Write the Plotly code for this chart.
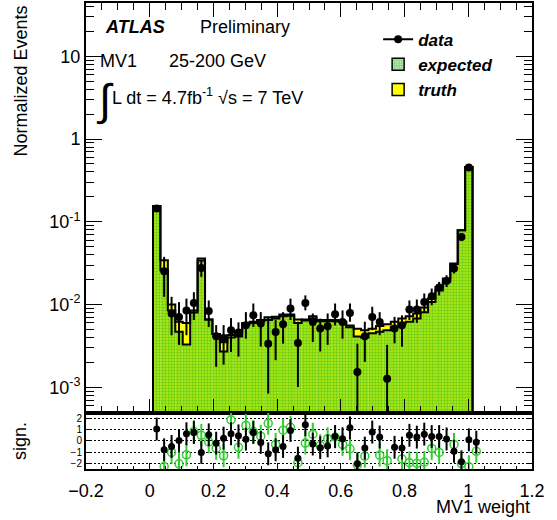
import numpy as np
import plotly.graph_objects as go

# ---------------- data ----------------
BIN_START = 0.0103      # left edge of first MV1-weight bin
BIN_WIDTH = 0.02333     # bin width
N_BINS = 43

data_vals = [0.145, 0.0253, 0.00778, 0.00708, 0.0085, 0.01045, 0.0277, 0.00838, 0.00414, 0.00394,
             0.00489, 0.00458, 0.00562, 0.00743, 0.00589, 0.00337, 0.00467, 0.00578, 0.00895, 0.00343,
             0.01045, 0.00617, 0.00513, 0.00547, 0.00764, 0.00617, 0.00793, 0.00153, 0.00414, 0.00708,
             0.00617, 0.00127, 0.00513, 0.00562, 0.0087, 0.0087, 0.01075, 0.0126, 0.0161, 0.0193,
             0.0272, 0.0656, 0.454]
data_hi = [0.155, 0.0377, 0.0124, 0.0107, 0.0118, 0.0141, 0.0344, 0.0112, 0.00564, 0.00564,
           0.00686, 0.0061, 0.0081, 0.0103, 0.0081, 0.0071, 0.0065, 0.0081, 0.0118, 0.0062,
           0.0129, 0.0078, 0.00676, 0.0078, 0.0103, 0.0085, 0.0103, 0.00337, 0.0062, 0.0094,
           0.0081, 0.00326, 0.0071, 0.0074, 0.0112, 0.0115, 0.0136, 0.0156, 0.0188, 0.0226,
           0.0313, 0.071, 0.47]
data_lo = [0.136, 0.0124, 0.00426, 0.00326, 0.00426, 0.0065, 0.0216, 0.00534, 0.00177, 0.00188,
           0.00267, 0.00235, 0.00387, 0.00536, 0.00311, 0.00084, 0.00213, 0.00337, 0.0065, 0.00101,
           0.0085, 0.00353, 0.00271, 0.00326, 0.0056, 0.00387, 0.0062, 0.0002, 0.00203, 0.0049,
           0.00426, 0.0002, 0.0034, 0.0031, 0.0065, 0.006, 0.0081, 0.0098, 0.0129, 0.0163,
           0.0237, 0.0605, 0.44]
expected = [0.155, 0.026, 0.0085, 0.0047, 0.0033, 0.0085, 0.034, 0.0066, 0.0044, 0.0027,
            0.0043, 0.0047, 0.0060, 0.0062, 0.0065, 0.0070, 0.0071, 0.0076, 0.0076, 0.0060,
            0.0066, 0.0072, 0.0065, 0.0065, 0.0065, 0.0062, 0.0053, 0.0041, 0.0040, 0.0045,
            0.0047, 0.0049, 0.0054, 0.0059, 0.0062, 0.0068, 0.0081, 0.0107, 0.0148, 0.0188,
            0.031, 0.079, 0.46]
truth = [0.155, 0.0344, 0.0100, 0.0062, 0.0060, 0.0080, 0.036, 0.0066, 0.0044, 0.0035,
         0.0040, 0.0041, 0.0058, 0.0060, 0.0063, 0.0065, 0.0068, 0.0072, 0.0073, 0.0066,
         0.0064, 0.0068, 0.0063, 0.0063, 0.0063, 0.0062, 0.0056, 0.0051, 0.0049, 0.0051,
         0.0055, 0.0058, 0.0062, 0.0068, 0.0072, 0.0078, 0.0092, 0.0118, 0.0163, 0.0206,
         0.0313, 0.0792, 0.46]

# significance panel (44 entries, last one beyond the histogram)
sig_data = [1.05, -0.77, -0.48, 0.05, 0.63, 0.74, -1.0, 0.54, -0.19, 0.25,
            0.63, 0.45, 0.16, 0.74, -0.13, -1.12, -0.77, -0.48, 0.92, -1.5,
            1.42, -0.27, -0.58, -0.43, 0.39, 0.2, 1.15, -2.0, -0.62, 0.78,
            0.35, None, -0.55, -0.62, 0.5, 0.34, 0.6, 0.39, 0.39, 0.18,
            -0.9, -1.82, 0.1, -0.1]
sig_truth = [None, -2.23, -1.0, -2.0, -1.21, 0.83, 0.5, -0.08, -0.65, -1.3,
             1.85, -0.55, 1.36, 0.83, 0.42, 1.55, -0.3, 0.95, 1.2, -1.9,
             -0.18, 0.6, -0.4, 0.2, 0.35, -0.3, -0.68, -2.1, -1.33, None,
             -1.24, -1.72, None, -1.57, -1.9, -1.95, -1.86, -0.65, -1.0, None,
             -0.3, -1.97, -2.25, -0.9]
sig_err = 1.0

y_tickvals = [1e-3, 1e-2, 1e-1, 1, 10]
y_ticktext = ["10<sup>-3</sup>", "10<sup>-2</sup>", "10<sup>-1</sup>", "1", "10"]
sig_tickvals = [-2, -1, 0, 1, 2]

# ---------------- derived ----------------
FONT = "Liberation Sans, Arial, Helvetica, sans-serif"
GREEN = "#33cc33"
HATCH = "#22b322"
HATCH_BG = "rgba(40,190,40,0.35)"
FLOOR = 1e-6

edges = BIN_START + BIN_WIDTH * np.arange(N_BINS + 1)
centers = 0.5 * (edges[:-1] + edges[1:])
sig_x = BIN_START + BIN_WIDTH * (np.arange(len(sig_data)) + 0.5)

d = np.array(data_vals)
err_up = np.array(data_hi) - d
err_dn = d - np.array(data_lo)


def step_outline(vals):
    vals = np.asarray(vals, dtype=float)
    x = np.concatenate([[edges[0]], edges, [edges[-1]]])
    y = np.concatenate([[FLOOR], vals, [vals[-1]], [FLOOR]])
    return x, y


fig = go.Figure()

# truth (yellow) and expected (green checker) histograms
fig.add_trace(go.Bar(x=centers, y=truth, width=BIN_WIDTH,
                     marker=dict(color="#ffff00", line=dict(width=0)),
                     showlegend=False, hoverinfo="skip"))
fig.add_trace(go.Bar(x=centers, y=expected, width=BIN_WIDTH,
                     marker=dict(color="rgba(0,0,0,0)", line=dict(width=0),
                                 pattern=dict(shape=".", fgcolor=HATCH, bgcolor=HATCH_BG,
                                              size=3, solidity=0.5)),
                     showlegend=False, hoverinfo="skip"))
for vals in (truth, expected):
    sx, sy = step_outline(vals)
    fig.add_trace(go.Scatter(x=sx, y=sy, mode="lines", line=dict(color="black", width=2, shape="hv"),
                             showlegend=False, hoverinfo="skip"))

# data points
fig.add_trace(go.Scatter(x=centers, y=data_vals, mode="markers",
                         marker=dict(color="black", size=8),
                         error_y=dict(type="data", symmetric=False, array=err_up, arrayminus=err_dn,
                                      color="black", thickness=2, width=0),
                         showlegend=False))

# legend entries
fig.add_trace(go.Scatter(x=[None], y=[None], mode="lines+markers", name="<b><i>data</i></b>",
                         marker=dict(color="black", size=8), line=dict(color="black", width=2),
                         legendgroup="a", legendrank=1))
fig.add_trace(go.Bar(x=[None], y=[None], name="<b><i>expected</i></b>",
                     marker=dict(color="rgba(0,0,0,0)", line=dict(color="black", width=1.5),
                                 pattern=dict(shape=".", fgcolor=HATCH, bgcolor="#c8efc0",
                                              size=3, solidity=0.5)),
                     legendgroup="b", legendrank=2))
fig.add_trace(go.Bar(x=[None], y=[None], name="<b><i>truth</i></b>",
                     marker=dict(color="#ffff00", line=dict(color="black", width=1.5)),
                     legendgroup="c", legendrank=3))

# significance panel
fig.add_trace(go.Scatter(x=sig_x, y=sig_truth, mode="markers", xaxis="x2", yaxis="y2",
                         marker=dict(symbol="circle-open", color=GREEN, size=8, line=dict(width=1.5)),
                         error_y=dict(type="constant", value=sig_err, color=GREEN, thickness=2, width=0),
                         showlegend=False))
fig.add_trace(go.Scatter(x=sig_x, y=sig_data, mode="markers", xaxis="x2", yaxis="y2",
                         marker=dict(color="black", size=7),
                         error_y=dict(type="constant", value=sig_err, color="black", thickness=2, width=0),
                         showlegend=False))

split = 0.1202
minor_log = [m * 10.0 ** e for e in range(-4, 2) for m in range(2, 10)]

axis_common = dict(showline=True, linecolor="black", linewidth=2, zeroline=False, showgrid=False,
                   ticks="inside", tickcolor="black", tickwidth=1, automargin=False)

fig.update_layout(
    width=557, height=520,
    margin=dict(l=86, r=25, t=3, b=51),
    plot_bgcolor="white", paper_bgcolor="white",
    barmode="overlay",
    font=dict(family=FONT, color="black", size=18),
    xaxis=dict(domain=[0, 1], anchor="y", range=[-0.2, 1.2], showticklabels=False,
               tickmode="linear", tick0=0, dtick=0.2, ticklen=14, mirror="allticks",
               minor=dict(ticks="inside", tick0=0, dtick=0.05, ticklen=7, tickcolor="black"),
               **axis_common),
    xaxis2=dict(domain=[0, 1], anchor="y2", matches="x", range=[-0.2, 1.2],
                tickmode="linear", tick0=0, dtick=0.2, ticklen=6, mirror=True,
                tickfont=dict(size=18), ticklabelstandoff=4,
                minor=dict(ticks="inside", tick0=0, dtick=0.05, ticklen=3, tickcolor="black"),
                **axis_common),
    yaxis=dict(domain=[split, 1], anchor="x", type="log", range=[-3.31, 1.643],
               tickmode="array", tickvals=y_tickvals, ticktext=y_ticktext, ticklen=16,
               mirror="allticks", tickfont=dict(size=18),
               minor=dict(ticks="inside", tickvals=minor_log, ticklen=8, tickcolor="black"),
               **axis_common),
    yaxis2=dict(domain=[0, split], anchor="x2", range=[-2.45, 2.45],
                tickmode="array", tickvals=sig_tickvals, ticklen=5, mirror="allticks",
                tickfont=dict(size=10), automargin=False,
                showline=True, linecolor="black", linewidth=2, zeroline=False,
                showgrid=True, gridcolor="black", gridwidth=1, griddash="2px,2px",
                ticks="inside", tickcolor="black", tickwidth=1),
    legend=dict(x=0.655, y=0.96, xanchor="left", yanchor="top", bgcolor="rgba(0,0,0,0)",
                font=dict(family=FONT, size=17, color="black"), traceorder="grouped",
                tracegroupgap=0, itemwidth=30),
    showlegend=True,
)


def px_x(px):
    return (px - 86) / 446.0


def px_y(py):
    return (469 - py) / 466.0


ann = [
    dict(text="<b><i>ATLAS</i></b>", x=px_x(103), y=px_y(27), size=18),
    dict(text="Preliminary", x=px_x(198), y=px_y(27), size=18),
    dict(text="MV1", x=px_x(98), y=px_y(61), size=18),
    dict(text="25-200 GeV", x=px_x(167), y=px_y(61), size=18),
    dict(text="\u222b", x=px_x(94), y=px_y(100), size=44),
    dict(text="L dt = 4.7fb<sup>-1</sup> \u221as = 7 TeV", x=px_x(110), y=px_y(97), size=18),
]
for a in ann:
    fig.add_annotation(text=a["text"], x=a["x"], y=a["y"], xref="paper", yref="paper",
                       xanchor="left", yanchor="middle", showarrow=False,
                       font=dict(family=FONT, size=a["size"], color="black"))

fig.add_annotation(text="Normalized Events", textangle=-90, x=px_x(20), y=px_y(4),
                   xref="paper", yref="paper", xanchor="center", yanchor="top", showarrow=False,
                   font=dict(family=FONT, size=18, color="black"))
fig.add_annotation(text="sign.", textangle=-90, x=px_x(20), y=px_y(441),
                   xref="paper", yref="paper", xanchor="center", yanchor="middle", showarrow=False,
                   font=dict(family=FONT, size=18, color="black"))
fig.add_annotation(text="MV1 weight", x=1.0, y=px_y(507), xref="paper", yref="paper",
                   xanchor="right", yanchor="middle", showarrow=False,
                   font=dict(family=FONT, size=18, color="black"))

fig.write_html("out.html", config={"displayModeBar": False},
               post_script="document.body.style.margin='0';")
